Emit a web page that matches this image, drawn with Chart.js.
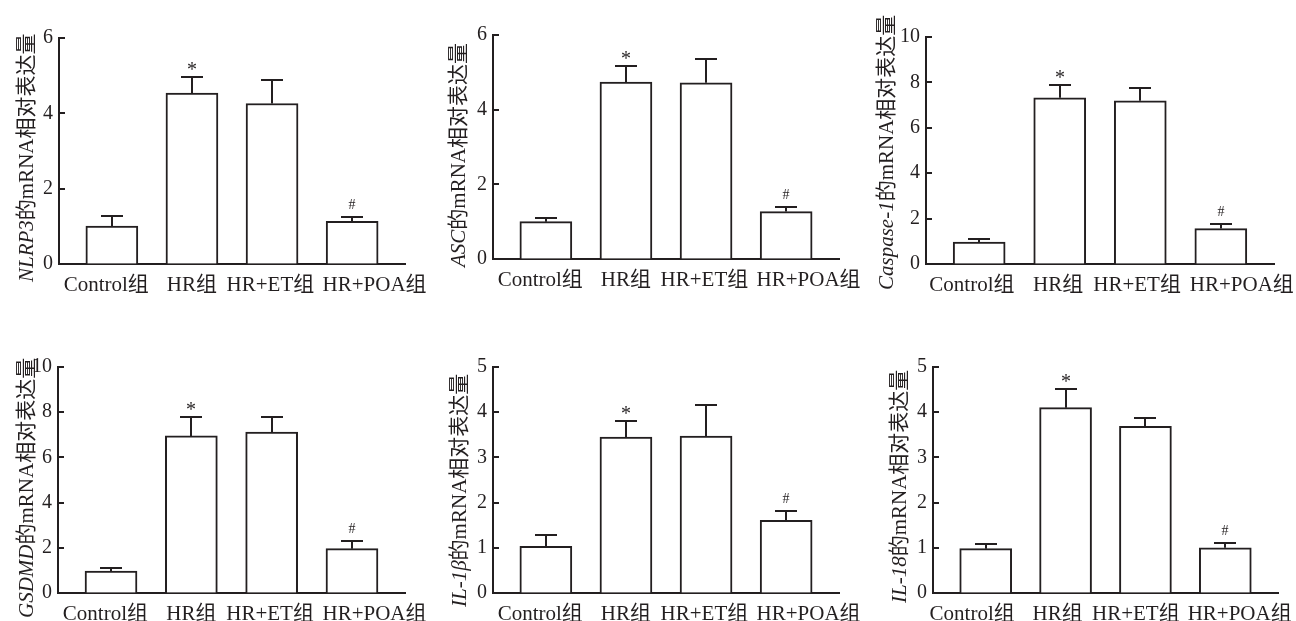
<!DOCTYPE html>
<html>
<head>
<meta charset="utf-8">
<script src="https://cdn.jsdelivr.net/npm/chart.js@4.4.1/dist/chart.umd.min.js"></script>
<style>
  html, body { margin: 0; padding: 0; background: #ffffff; }
  body { width: 1296px; height: 621px; position: relative; overflow: hidden; }
  .panel { position: absolute; }
</style>
</head>
<body>
<div class="panel" id="p1" style="left:0px;top:0px;width:445px;height:300px"><canvas id="c1"></canvas></div>
<div class="panel" id="p2" style="left:430px;top:0px;width:445px;height:300px"><canvas id="c2"></canvas></div>
<div class="panel" id="p3" style="left:860px;top:0px;width:436px;height:300px"><canvas id="c3"></canvas></div>
<div class="panel" id="p4" style="left:0px;top:320px;width:445px;height:301px"><canvas id="c4"></canvas></div>
<div class="panel" id="p5" style="left:430px;top:320px;width:445px;height:301px"><canvas id="c5"></canvas></div>
<div class="panel" id="p6" style="left:860px;top:320px;width:436px;height:301px"><canvas id="c6"></canvas></div>
<script>
// ---------- DATA ----------
const categories = ['Control组', 'HR组', 'HR+ET组', 'HR+POA组'];
const significance = ['', '*', '', '#'];

const nlrp3Mean = [1.01, 4.54, 4.26, 1.13];
const nlrp3SD   = [0.27, 0.42, 0.62, 0.11];
const ascMean   = [1.00, 4.74, 4.72, 1.27];
const ascSD     = [0.09, 0.44, 0.63, 0.11];
const casp1Mean = [0.97, 7.32, 7.19, 1.56];
const casp1SD   = [0.12, 0.58, 0.56, 0.22];
const gsdmdMean = [0.97, 6.95, 7.12, 1.96];
const gsdmdSD   = [0.14, 0.82, 0.68, 0.36];
const il1bMean  = [1.03, 3.45, 3.47, 1.61];
const il1bSD    = [0.25, 0.36, 0.70, 0.21];
const il18Mean  = [0.98, 4.10, 3.69, 1.00];
const il18SD    = [0.11, 0.41, 0.18, 0.11];

const geneNames = ['NLRP3', 'ASC', 'Caspase-1', 'GSDMD', 'IL-1β', 'IL-18'];
const titleSuffix = '的mRNA相对表达量';

const yTicksSixMax = [0, 2, 4, 6];
const yTicksTenMax = [0, 2, 4, 6, 8, 10];
const yTicksFiveMax = [0, 1, 2, 3, 4, 5];

// ---------- STYLE / LAYOUT ----------
const INK = '#231f20';
const SERIF = "'Liberation Serif', 'Noto Sans CJK SC', serif";
// horizontal nudge of each category label relative to its bar (in category units)
const labelNudge = [-0.07, 0.0, -0.02, 0.28];

const panels = [
  { id: 'c1', mean: nlrp3Mean, sd: nlrp3SD, ticks: yTicksSixMax, gene: 0, w: 445, h: 300, left: 59, right: 405, top: 38, bottom: 264, titleX: 27, titleY: 282, shift: 0 },
  { id: 'c2', mean: ascMean,   sd: ascSD,   ticks: yTicksSixMax, gene: 1, w: 445, h: 300, left: 63, right: 409, top: 35, bottom: 259, titleX: 29, titleY: 267, shift: 0 },
  { id: 'c3', mean: casp1Mean, sd: casp1SD, ticks: yTicksTenMax, gene: 2, w: 436, h: 300, left: 66, right: 414, top: 37, bottom: 264, titleX: 27, titleY: 290, shift: -0.02 },
  { id: 'c4', mean: gsdmdMean, sd: gsdmdSD, ticks: yTicksTenMax, gene: 3, w: 445, h: 301, left: 58, right: 405, top: 47, bottom: 273, titleX: 27, titleY: 298, shift: 0 },
  { id: 'c5', mean: il1bMean,  sd: il1bSD,  ticks: yTicksFiveMax, gene: 4, w: 445, h: 301, left: 63, right: 409, top: 47, bottom: 273, titleX: 30, titleY: 287, shift: 0 },
  { id: 'c6', mean: il18Mean,  sd: il18SD,  ticks: yTicksFiveMax, gene: 5, w: 436, h: 301, left: 73, right: 418, top: 47, bottom: 273, titleX: 40, titleY: 283, shift: -0.1 }
];

const decorPlugin = {
  id: 'decor',
  afterDatasetsDraw(chart, args, opts) {
    const ctx = chart.ctx;
    const xs = chart.scales.x, ys = chart.scales.y;
    const area = chart.chartArea;
    const ds = chart.data.datasets[0];
    ctx.save();
    ctx.strokeStyle = INK;
    ctx.lineWidth = 2;
    ds.data.forEach((pt, i) => {
      const sd = opts.sd[i];
      const x = Math.round(xs.getPixelForValue(pt.x));
      const y0 = ys.getPixelForValue(pt.y);
      const y1 = Math.round(ys.getPixelForValue(pt.y + sd));
      ctx.beginPath();
      ctx.moveTo(x, y0);
      ctx.lineTo(x, y1);
      ctx.moveTo(x - 11, y1);
      ctx.lineTo(x + 11, y1);
      ctx.stroke();
      const mark = opts.marks[i];
      if (mark) {
        ctx.fillStyle = INK;
        ctx.textAlign = 'center';
        ctx.textBaseline = 'alphabetic';
        if (mark === '*') {
          ctx.font = "20px 'Liberation Serif'";
          ctx.fillText(mark, x, y1 - 1);
        } else {
          ctx.font = "14px 'Liberation Serif'";
          ctx.fillText(mark, x, y1 - 8);
        }
      }
    });
    ys.ticks.forEach(t => {
      const y = Math.round(ys.getPixelForValue(t.value));
      ctx.beginPath();
      ctx.moveTo(area.left - 1, y);
      ctx.lineTo(area.left + 6, y);
      ctx.stroke();
    });
    ctx.translate(opts.titleX, opts.titleY);
    ctx.rotate(-Math.PI / 2);
    ctx.textAlign = 'left';
    ctx.textBaseline = 'middle';
    ctx.fillStyle = INK;
    ctx.font = "italic 21px 'Liberation Serif'";
    ctx.fillText(opts.gene, 0, 0);
    const gw = ctx.measureText(opts.gene).width;
    ctx.font = "21px 'Liberation Serif', 'Noto Sans CJK SC'";
    ctx.fillText(opts.suffix, gw, 0);
    ctx.restore();
  }
};

panels.forEach(p => {
  const canvas = document.getElementById(p.id);
  const yMax = p.ticks[p.ticks.length - 1];
  new Chart(canvas, {
    type: 'bar',
    data: {
      datasets: [{
        data: p.mean.map((v, i) => ({ x: i, y: v })),
        backgroundColor: '#ffffff',
        borderColor: INK,
        borderWidth: 2,
        borderSkipped: 'bottom',
        barThickness: 52
      }]
    },
    options: {
      responsive: true,
      maintainAspectRatio: false,
      animation: false,
      layout: { padding: { top: p.top, right: p.w - p.right, left: 0, bottom: 0 } },
      plugins: {
        legend: { display: false },
        tooltip: { enabled: false },
        decor: { sd: p.sd, marks: significance, gene: geneNames[p.gene], suffix: titleSuffix, titleX: p.titleX, titleY: p.titleY }
      },
      scales: {
        x: {
          type: 'linear',
          offset: false,
          min: -0.66,
          max: 3.66,
          afterBuildTicks: s => { s.ticks = categories.map((c, i) => ({ value: i + labelNudge[i] + p.shift })); },
          afterFit: s => { s.height = p.h - p.bottom; s.paddingLeft = 0; s.paddingRight = 0; },
          grid: { display: true, offset: false, drawOnChartArea: false, drawTicks: false },
          border: { display: true, color: INK, width: 2 },
          ticks: {
            autoSkip: false,
            maxRotation: 0,
            padding: 9,
            color: INK,
            font: { family: SERIF, size: 21 },
            callback: (v, i) => categories[i]
          }
        },
        y: {
          min: 0,
          max: yMax,
          afterBuildTicks: s => { s.ticks = p.ticks.map(v => ({ value: v })); },
          afterFit: s => { s.width = p.left; s.paddingTop = 0; s.paddingBottom = 0; },
          grid: { display: true, drawOnChartArea: false, drawTicks: false },
          border: { display: true, color: INK, width: 2 },
          ticks: {
            padding: 6,
            color: INK,
            font: { family: SERIF, size: 20 }
          }
        }
      }
    },
    plugins: [decorPlugin]
  });
});
</script>
</body>
</html>
